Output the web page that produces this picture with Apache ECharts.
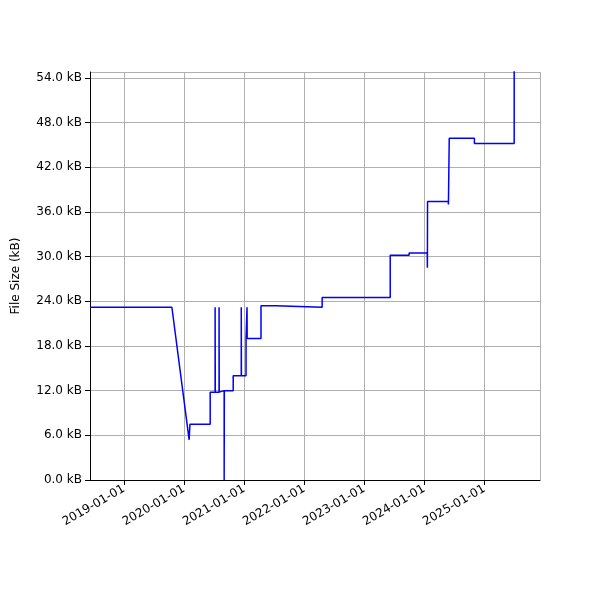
<!DOCTYPE html><html><head><meta charset="utf-8"><script src="https://cdn.jsdelivr.net/npm/echarts@6/dist/echarts.min.js"></script></head><body style="margin:0"><div id="c" style="width:600px;height:600px"></div><script>
const dates=['2018-06-08','2019-10-19','2020-02-01','2020-02-06','2020-06-08','2020-06-08','2020-07-08','2020-07-08','2020-07-09','2020-08-01','2020-08-01','2020-08-02','2020-08-13','2020-09-01','2020-09-01','2020-09-02','2020-10-26','2020-10-26','2020-12-14','2020-12-14','2020-12-15','2021-01-12','2021-01-12','2021-01-18','2021-01-18','2021-01-19','2021-04-13','2021-04-13','2021-07-13','2021-07-13','2022-04-20','2022-04-20','2023-06-08','2023-06-08','2023-10-01','2023-10-01','2024-01-19','2024-01-20','2024-01-21','2024-05-26','2024-05-27','2024-06-01','2024-11-01','2024-11-01','2025-07-01','2025-07-01'];
const sizes=[23.2,23.2,5.4,7.5,7.5,11.8,11.8,23.2,11.8,11.8,23.2,11.8,12.0,12.0,0,12.0,12.0,14.0,14.0,23.2,14.0,14.0,19.0,19.0,23.2,19.0,19.0,23.4,23.4,23.2,23.2,24.5,24.5,30.2,30.2,30.5,30.5,28.5,37.4,37.4,37.0,45.9,45.9,45.2,45.2,56];
const yTicks=[0,6,12,18,24,30,36,42,48,54];
const years=['2019','2020','2021','2022','2023','2024','2025'];
const c=echarts.init(document.getElementById('c'));
const ts=d=>new Date(d+'T00:00:00Z').getTime();
c.setOption({animation:false,grid:{left:90,right:60,top:72,bottom:120},
xAxis:{type:'time',min:ts('2018-06-08'),max:ts('2025-12-05'),splitNumber:8,
axisLine:{lineStyle:{color:'#000'}},axisTick:{lineStyle:{color:'#000'}},
splitLine:{show:true,lineStyle:{color:'#b0b0b0'}},
axisLabel:{rotate:30,color:'#000',fontSize:12,fontFamily:'DejaVu Sans',hideOverlap:false,showMinLabel:false,showMaxLabel:false,
formatter:v=>{const d=new Date(v);return d.getUTCFullYear()+'-01-01';}}},
yAxis:{type:'value',min:0,max:54.8,interval:6,name:'File Size (kB)',nameLocation:'middle',nameGap:68,nameTextStyle:{color:'#000',fontSize:12,fontFamily:'DejaVu Sans'},
axisLine:{show:true,lineStyle:{color:'#000'}},axisTick:{show:true,lineStyle:{color:'#000'}},
splitLine:{lineStyle:{color:'#b0b0b0'}},
axisLabel:{color:'#000',fontSize:12,fontFamily:'DejaVu Sans',showMaxLabel:false,formatter:v=>v.toFixed(1)+' kB'}},
series:[{type:'line',data:dates.map((d,i)=>[ts(d),sizes[i]]),showSymbol:false,lineStyle:{color:'#0000ff',width:1.5},clip:true}]});
</script></body></html>
